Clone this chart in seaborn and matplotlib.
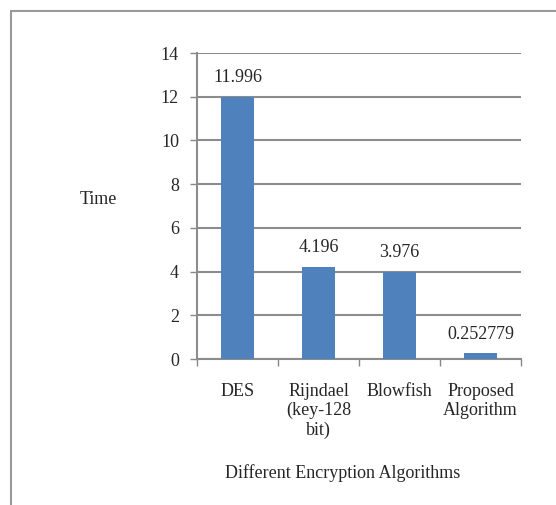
import matplotlib
matplotlib.use("Agg")
import matplotlib.pyplot as plt
import seaborn as sns
import pandas as pd
from matplotlib.lines import Line2D

categories = ["DES", "Rijndael\n(key-128\nbit)", "Blowfish", "Proposed\nAlgorithm"]
times = [11.996, 4.196, 3.976, 0.252779]
value_labels = ["11.996", "4.196", "3.976", "0.252779"]
yticks = [0, 2, 4, 6, 8, 10, 12, 14]

sns.set_theme(style="white")
plt.rcParams['font.family'] = ['Liberation Serif', 'DejaVu Serif']

df = pd.DataFrame({"cat": categories, "time": times})

fig = plt.figure(figsize=(5.56, 5.05), dpi=100)
ax = fig.add_axes([197/556, 1-359/505, 324/556, 306/505])

sns.barplot(data=df, x="cat", y="time", color="#4F81BD", width=0.4,
            saturation=1, ax=ax, zorder=3, linewidth=0, edgecolor="none")

ax.set_ylim(0, 14)
ax.set_yticks(yticks)
ax.set_yticklabels([str(t) for t in yticks], fontsize=13)
ax.set_xlim(-0.5, 3.5)
ax.set_xticks([])
ax.set_xticks([-0.5, 0.5, 1.5, 2.5, 3.5], minor=True)
ax.tick_params(axis='x', which='minor', length=5, width=1, color='#888888', direction='out', bottom=True)
ax.tick_params(axis='y', length=5, width=1, color='#888888', direction='out', left=True, pad=8)

for i, lab in enumerate(categories):
    ax.text(i, -1.1, lab, ha='center', va='top', fontsize=13, transform=ax.transData, linespacing=1.15)

ax.yaxis.grid(True, color='#8c8c8c', linewidth=1.5, zorder=0)
ax.set_axisbelow(True)
for s in ['top', 'right']:
    ax.spines[s].set_visible(False)
for s in ['left', 'bottom']:
    ax.spines[s].set_color('#8c8c8c')
    ax.spines[s].set_linewidth(1.5)

for i, (v, lab) in enumerate(zip(times, value_labels)):
    ax.text(i, v + 0.5, lab, ha='center', va='bottom', fontsize=13)

ax.set_xlabel("")
ax.set_ylabel("")
fig.text(98/556, 1-200/505, "Time", ha='center', va='center', fontsize=13)
fig.text(343/556, 1-473/505, "Different Encryption Algorithms", ha='center', va='center', fontsize=13)

# outer border
fig.add_artist(Line2D([11/556, 11/556], [0, 1-11/505], transform=fig.transFigure, color='#999999', linewidth=1.5))
fig.add_artist(Line2D([11/556, 1], [1-11/505, 1-11/505], transform=fig.transFigure, color='#999999', linewidth=1.5))

fig.savefig("out.png", dpi=100)
